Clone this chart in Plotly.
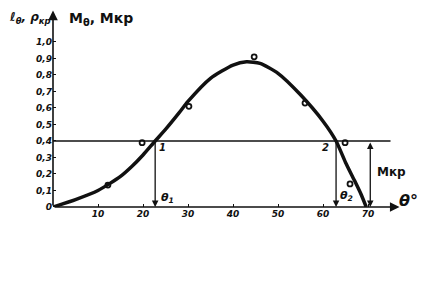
import plotly.graph_objects as go

# Data
theta_curve = [0, 5, 10, 15, 17.5, 20, 22.7, 25, 28, 30, 35, 40, 43, 46, 50, 55, 60, 62.9, 65, 67, 68.4, 69.6]
m_curve = [0, 0.045, 0.10, 0.185, 0.245, 0.315, 0.40, 0.47, 0.57, 0.64, 0.78, 0.86, 0.88, 0.87, 0.81, 0.68, 0.52, 0.40, 0.27, 0.16, 0.08, 0]

theta_pts = [12.2, 19.8, 30.2, 44.7, 56, 64.9, 66]
m_pts = [0.133, 0.39, 0.61, 0.91, 0.63, 0.39, 0.14]

m_kr = 0.4
theta1 = 22.7
theta2 = 62.9
theta_mkr = 70.5
theta_line_end = 75

y_tick_vals = [0, 0.1, 0.2, 0.3, 0.4, 0.5, 0.6, 0.7, 0.8, 0.9, 1.0]
y_tick_text = ["0", "0,1", "0,2", "0,3", "0,4", "0,5", "0,6", "0,7", "0,8", "0,9", "1,0"]
x_tick_vals = [10, 20, 30, 40, 50, 60, 70]
x_tick_text = ["10", "20", "30", "40", "50", "60", "70"]

FONT = "DejaVu Sans"
INK = "#111111"

fig = go.Figure()

# horizontal line M_kr
fig.add_trace(go.Scatter(x=[0, theta_line_end], y=[m_kr, m_kr], mode="lines",
                         line=dict(color=INK, width=1.3), hoverinfo="skip", showlegend=False))

# main curve
fig.add_trace(go.Scatter(x=theta_curve, y=m_curve, mode="lines",
                         line=dict(color=INK, width=3.5, shape="spline", smoothing=0.6),
                         hoverinfo="skip", showlegend=False))

# experimental points
fig.add_trace(go.Scatter(x=theta_pts, y=m_pts, mode="markers",
                         marker=dict(symbol="circle-open", size=5, color=INK, line=dict(width=1.8)),
                         hoverinfo="skip", showlegend=False))

anns = []
# axes arrows
anns.append(dict(x=77, y=0, ax=0, ay=0, xref="x", yref="y", axref="x", ayref="y",
                 showarrow=True, arrowhead=2, arrowsize=1.2, arrowwidth=1.6, arrowcolor=INK, text=""))
anns.append(dict(x=0, y=1.19, ax=0, ay=0, xref="x", yref="y", axref="x", ayref="y",
                 showarrow=True, arrowhead=2, arrowsize=1.2, arrowwidth=1.6, arrowcolor=INK, text=""))
# vertical arrows from points 1 and 2
for t in (theta1, theta2):
    anns.append(dict(x=t, y=0, ax=t, ay=m_kr, xref="x", yref="y", axref="x", ayref="y",
                     showarrow=True, arrowhead=2, arrowsize=1, arrowwidth=1.3, arrowcolor=INK, text=""))
# double arrow M_kr
anns.append(dict(x=theta_mkr, y=0, ax=theta_mkr, ay=m_kr, xref="x", yref="y", axref="x", ayref="y",
                 showarrow=True, arrowhead=2, startarrowhead=2, arrowside="end+start",
                 arrowsize=1, arrowwidth=1.3, arrowcolor=INK, text=""))

def txt(x, y, s, size=10, xref="x", yref="y", xanchor="center", italic=True, weight="bold"):
    anns.append(dict(x=x, y=y, xref=xref, yref=yref, text=s, showarrow=False, xanchor=xanchor,
                     font=dict(family=FONT, size=size, color=INK,
                               style="italic" if italic else "normal", weight=weight)))

txt(24.3, 0.36, "1", size=10)
txt(60.6, 0.36, "2", size=10)
txt(25.5, 0.055, "θ<sub>1</sub>", size=11)
txt(65.3, 0.065, "θ<sub>2</sub>", size=11)
txt(75.3, 0.21, "Mкр", size=12, italic=False)
txt(79.0, 0.04, "θ°", size=16)
# top-left axis titles (paper coords)
txt(-0.065, 0.985, "ℓ<sub>θ</sub>, ρ<sub>кр</sub>", size=12, xref="paper", yref="paper")
txt(0.13, 0.985, "M<sub>θ</sub>, Mкр", size=14, xref="paper", yref="paper", italic=False)

fig.update_layout(
    width=425, height=305,
    margin=dict(l=53, r=5, t=5, b=98),
    paper_bgcolor="white", plot_bgcolor="white",
    annotations=anns,
    xaxis=dict(range=[0, 81.55], showgrid=False, zeroline=False, showline=False,
               tickvals=x_tick_vals, ticktext=x_tick_text, ticks="inside", ticklen=3,
               tickcolor=INK, tickfont=dict(family=FONT, size=9, color=INK, style="italic", weight="bold")),
    yaxis=dict(range=[0, 1.224], showgrid=False, zeroline=False, showline=False,
               tickvals=y_tick_vals, ticktext=y_tick_text, ticks="inside", ticklen=3,
               tickcolor=INK, tickfont=dict(family=FONT, size=9, color=INK, style="italic", weight="bold")),
)

fig.write_html("out.html")
